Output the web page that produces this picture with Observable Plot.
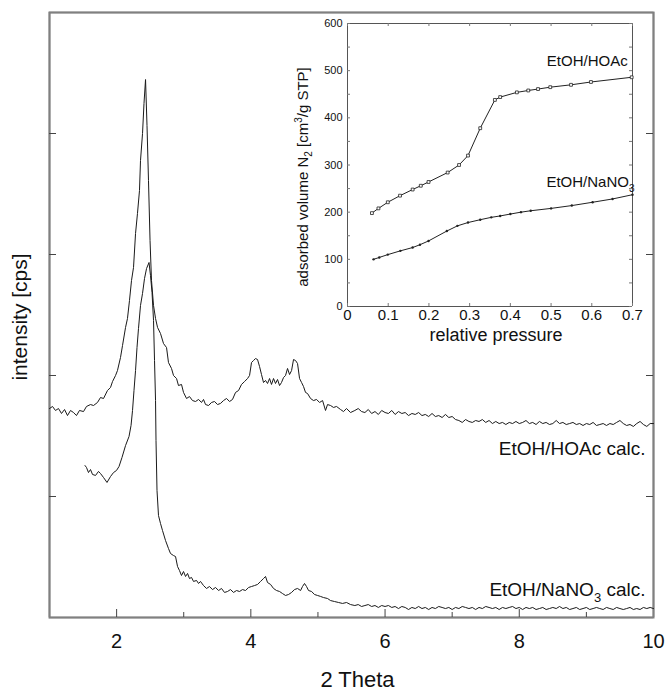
<!DOCTYPE html>
<html>
<head>
<meta charset="utf-8">
<script src="https://cdn.jsdelivr.net/npm/d3@7"></script>
<script src="https://cdn.jsdelivr.net/npm/@observablehq/plot@0.6"></script>
<style>
  html, body { margin: 0; padding: 0; background: #fff; }
  #wrap { position: relative; width: 666px; height: 693px; font-family: "Liberation Sans", Arial, Helvetica, sans-serif; }
  #wrap svg { position: absolute; max-width: none; }
</style>
</head>
<body>
<div id="wrap"></div>
<script>
// ---------- Main XRD chart data ----------
const thetaDomain = [1, 10];
const intensityDomain = [0, 5];
const thetaMajorTicks = [2, 4, 6, 8];
const thetaMinorTicks = [3, 5, 7, 9];
const thetaLabelTicks = [2, 4, 6, 8, 10];
const intensityTicks = [1, 2, 3, 4];
const xTitle = "2 Theta";
const yTitle = "intensity [cps]";
const curveLabels = ["EtOH/HOAc calc.", "EtOH/NaNO3 calc."];

// [2 theta, intensity (arbitrary units)]
const hoacXRD = [
[1.000,1.727],[1.045,1.744],[1.089,1.711],[1.134,1.727],[1.179,1.686],[1.224,1.719],[1.268,1.669],[1.313,1.711],[1.358,1.694],[1.402,1.669],
[1.447,1.711],[1.507,1.702],[1.551,1.744],[1.611,1.760],[1.656,1.752],[1.715,1.777],[1.760,1.818],[1.805,1.810],[1.864,1.876],[1.909,1.901],
[1.939,1.950],[1.984,2.000],[2.013,2.041],[2.058,2.149],[2.088,2.248],[2.133,2.397],[2.162,2.471],[2.192,2.620],[2.222,2.785],[2.252,2.893],
[2.282,3.174],[2.311,3.339],[2.341,3.529],[2.356,3.777],[2.386,4.000],[2.408,4.248],[2.431,4.446],[2.453,4.066],[2.475,3.612],[2.498,3.116],
[2.520,2.785],[2.550,2.579],[2.580,2.471],[2.610,2.397],[2.654,2.347],[2.699,2.264],[2.744,2.231],[2.773,2.107],[2.818,2.058],[2.848,2.000],
[2.893,1.975],[2.922,1.917],[2.967,1.926],[2.997,1.860],[3.042,1.810],[3.086,1.826],[3.131,1.793],[3.176,1.785],[3.221,1.802],[3.265,1.777],
[3.295,1.802],[3.325,1.760],[3.370,1.752],[3.414,1.777],[3.459,1.785],[3.504,1.760],[3.548,1.769],[3.593,1.793],[3.638,1.810],[3.683,1.785],
[3.727,1.802],[3.772,1.860],[3.817,1.876],[3.861,1.926],[3.906,1.950],[3.951,1.975],[3.981,2.000],[4.010,2.107],[4.040,2.124],[4.070,2.140],
[4.100,2.132],[4.130,2.074],[4.159,2.008],[4.189,1.942],[4.219,1.959],[4.249,1.934],[4.279,1.975],[4.308,1.926],[4.338,1.975],[4.368,1.934],
[4.398,1.967],[4.428,1.917],[4.457,1.942],[4.487,1.983],[4.517,2.000],[4.547,2.058],[4.577,2.008],[4.607,2.041],[4.636,2.132],[4.666,2.124],
[4.696,2.099],[4.726,1.975],[4.756,1.942],[4.785,1.909],[4.815,1.860],[4.845,1.851],[4.890,1.810],[4.934,1.793],[4.979,1.802],[5.024,1.777],
[5.069,1.793],[5.113,1.711],[5.143,1.760],[5.188,1.752],[5.232,1.736],[5.277,1.744],[5.337,1.719],[5.381,1.702],[5.426,1.727],[5.486,1.694],
[5.55,1.711],[5.60,1.727],[5.65,1.702],[5.70,1.694],[5.75,1.719],[5.80,1.686],[5.85,1.702],[5.90,1.678],[5.95,1.711],[6.00,1.694],
[6.05,1.686],[6.10,1.711],[6.15,1.678],[6.20,1.702],[6.25,1.686],[6.30,1.694],[6.35,1.669],[6.40,1.686],[6.45,1.678],[6.50,1.694],
[6.55,1.669],[6.60,1.678],[6.65,1.661],[6.70,1.686],[6.75,1.661],[6.80,1.669],[6.85,1.653],[6.90,1.678],[6.95,1.653],[7.00,1.661],
[7.05,1.636],[7.10,1.628],[7.15,1.612],[7.20,1.636],[7.25,1.620],[7.30,1.612],[7.35,1.628],[7.40,1.620],[7.45,1.636],[7.50,1.612],
[7.55,1.628],[7.60,1.603],[7.65,1.620],[7.70,1.603],[7.75,1.612],[7.80,1.595],[7.85,1.612],[7.90,1.603],[7.95,1.620],[8.00,1.603],
[8.05,1.612],[8.10,1.628],[8.15,1.603],[8.20,1.612],[8.25,1.595],[8.30,1.620],[8.35,1.603],[8.40,1.612],[8.45,1.595],[8.50,1.603],
[8.55,1.628],[8.60,1.603],[8.65,1.612],[8.70,1.595],[8.75,1.603],[8.80,1.612],[8.85,1.595],[8.90,1.603],[8.95,1.587],[9.00,1.603],
[9.05,1.595],[9.10,1.612],[9.15,1.587],[9.20,1.595],[9.25,1.603],[9.30,1.587],[9.35,1.603],[9.40,1.595],[9.45,1.612],[9.50,1.628],
[9.55,1.603],[9.60,1.587],[9.65,1.595],[9.70,1.579],[9.75,1.603],[9.80,1.620],[9.85,1.595],[9.90,1.579],[9.95,1.603],[10.00,1.603]
];

const nano3XRD = [
[1.529,1.256],[1.551,1.240],[1.581,1.198],[1.611,1.223],[1.641,1.182],[1.686,1.174],[1.730,1.207],[1.760,1.190],[1.805,1.157],[1.857,1.116],
[1.909,1.165],[1.954,1.198],[1.998,1.215],[2.036,1.248],[2.080,1.322],[2.133,1.421],[2.185,1.496],[2.215,1.587],[2.237,1.711],[2.259,1.876],
[2.282,2.041],[2.304,2.231],[2.326,2.388],[2.356,2.579],[2.386,2.678],[2.416,2.802],[2.446,2.884],[2.483,2.934],[2.505,2.826],[2.528,2.686],
[2.550,2.455],[2.565,2.124],[2.580,1.793],[2.587,1.463],[2.602,1.050],[2.624,0.843],[2.654,0.777],[2.684,0.719],[2.729,0.636],[2.773,0.570],
[2.803,0.529],[2.848,0.512],[2.878,0.504],[2.908,0.421],[2.937,0.388],[2.967,0.347],[2.997,0.380],[3.027,0.339],[3.057,0.364],[3.086,0.322],
[3.116,0.331],[3.146,0.298],[3.191,0.306],[3.221,0.281],[3.250,0.298],[3.295,0.264],[3.340,0.240],[3.384,0.256],[3.429,0.231],[3.474,0.248],
[3.519,0.223],[3.563,0.240],[3.608,0.207],[3.653,0.215],[3.697,0.231],[3.742,0.207],[3.787,0.223],[3.832,0.215],[3.876,0.231],[3.921,0.223],
[3.966,0.248],[4.010,0.256],[4.055,0.264],[4.100,0.273],[4.145,0.298],[4.189,0.322],[4.219,0.339],[4.249,0.289],[4.294,0.273],[4.338,0.240],
[4.383,0.223],[4.428,0.215],[4.472,0.198],[4.517,0.182],[4.562,0.190],[4.607,0.207],[4.651,0.231],[4.696,0.240],[4.741,0.223],[4.770,0.256],
[4.800,0.281],[4.830,0.256],[4.860,0.223],[4.905,0.215],[4.949,0.190],[4.994,0.182],[5.039,0.174],[5.083,0.165],[5.143,0.157],[5.188,0.140],
[5.247,0.132],[5.307,0.124],[5.366,0.116],[5.426,0.124],[5.486,0.107],
[5.55,0.099],[5.60,0.107],[5.65,0.091],[5.70,0.099],[5.75,0.107],[5.80,0.091],[5.85,0.099],[5.90,0.083],[5.95,0.099],[6.00,0.091],
[6.05,0.099],[6.10,0.083],[6.15,0.091],[6.20,0.074],[6.25,0.091],[6.30,0.083],[6.35,0.066],[6.40,0.083],[6.45,0.074],[6.50,0.091],
[6.55,0.074],[6.60,0.083],[6.65,0.066],[6.70,0.083],[6.75,0.074],[6.80,0.091],[6.85,0.083],[6.90,0.074],[6.95,0.083],[7.00,0.066],
[7.05,0.083],[7.10,0.074],[7.15,0.091],[7.20,0.083],[7.25,0.074],[7.30,0.083],[7.35,0.066],[7.40,0.083],[7.45,0.074],[7.50,0.091],
[7.55,0.083],[7.60,0.074],[7.65,0.083],[7.70,0.066],[7.75,0.083],[7.80,0.074],[7.85,0.083],[7.90,0.091],[7.95,0.074],[8.00,0.083],
[8.05,0.066],[8.10,0.083],[8.15,0.074],[8.20,0.083],[8.25,0.066],[8.30,0.074],[8.35,0.083],[8.40,0.066],[8.45,0.074],[8.50,0.083],
[8.55,0.074],[8.60,0.091],[8.65,0.074],[8.70,0.083],[8.75,0.066],[8.80,0.074],[8.85,0.083],[8.90,0.066],[8.95,0.074],[9.00,0.083],
[9.05,0.066],[9.10,0.074],[9.15,0.083],[9.20,0.074],[9.25,0.066],[9.30,0.083],[9.35,0.074],[9.40,0.066],[9.45,0.083],[9.50,0.074],
[9.55,0.066],[9.60,0.074],[9.65,0.083],[9.70,0.066],[9.75,0.074],[9.80,0.066],[9.85,0.083],[9.90,0.074],[9.95,0.083],[10.00,0.074]
];

// ---------- Inset (N2 sorption) data ----------
const pressureDomain = [0, 0.7];
const volumeDomain = [0, 600];
const pressureTicks = [0, 0.1, 0.2, 0.3, 0.4, 0.5, 0.6, 0.7];
const volumeTicks = [0, 100, 200, 300, 400, 500, 600];
const volumeMinorTicks = [50, 150, 250, 350, 450, 550];
const insetXTitle = "relative pressure";
const insetYTitle = "adsorbed volume N2 [cm3/g STP]";
const insetLabels = ["EtOH/HOAc", "EtOH/NaNO3"];
// [relative pressure, adsorbed volume]
const hoacN2 = [
[0.060,198],[0.076,208],[0.099,221],[0.129,235],[0.160,248],[0.180,256],[0.199,264],[0.246,284],[0.274,300],[0.296,320],
[0.326,378],[0.362,438],[0.375,444],[0.416,454],[0.444,458],[0.468,461],[0.498,465],[0.549,470],[0.598,476],[0.698,486]
];
const nano3N2 = [
[0.064,100],[0.078,104],[0.099,110],[0.130,118],[0.160,125],[0.178,131],[0.199,139],[0.244,160],[0.270,171],[0.296,178],
[0.326,184],[0.353,189],[0.375,192],[0.400,196],[0.426,200],[0.450,203],[0.500,208],[0.551,214],[0.602,221],[0.651,228],[0.700,237]
];

const FONT = "'Liberation Sans', Arial, Helvetica, sans-serif";
const px = d => d[0], py = d => d[1];
const last = a => [a[a.length - 1]];
const FRAME = "#808080";

const main = Plot.plot({
  width: 666, height: 693,
  marginLeft: 49, marginRight: 13, marginTop: 12, marginBottom: 76,
  style: {fontFamily: FONT, background: "transparent", color: "#111"},
  x: {domain: thetaDomain},
  y: {domain: intensityDomain, axis: null},
  marks: [
    // frame (box) drawn from the scale domains
    Plot.frame({stroke: FRAME, strokeWidth: 2}),
    Plot.ruleX(thetaDomain, {x: d => d, stroke: FRAME, strokeWidth: 1.6}),
    Plot.ruleY(intensityDomain, {y: d => d, stroke: FRAME, strokeWidth: 1.6}),
    Plot.ruleX(thetaMajorTicks, {x: d => d, y1: intensityDomain[0], y2: intensityDomain[0], insetTop: -8, stroke: "#444"}),
    Plot.ruleX(thetaMinorTicks, {x: d => d, y1: intensityDomain[0], y2: intensityDomain[0], insetTop: -5, stroke: "#444"}),
    Plot.ruleY(intensityTicks, {y: d => d, x1: thetaDomain[0], x2: thetaDomain[0], insetRight: -7, stroke: "#444"}),
    Plot.ruleY(intensityTicks, {y: d => d, x1: thetaDomain[1], x2: thetaDomain[1], insetLeft: -7, stroke: "#444"}),
    Plot.axisX({ticks: thetaLabelTicks, tickFormat: d => String(d), tickSize: 0, tickPadding: 16, fontSize: 20, label: null, fill: "#111"}),
    Plot.line(hoacXRD, {x: px, y: py, stroke: "#1a1a1a", strokeWidth: 1}),
    Plot.line(nano3XRD, {x: px, y: py, stroke: "#1a1a1a", strokeWidth: 1}),
    Plot.text(last(hoacXRD), {x: px, y: py, text: () => curveLabels[0], textAnchor: "end", dx: -8, dy: 25, fontSize: 19, fill: "#111"}),
    Plot.text(last(nano3XRD), {x: px, y: py, text: () => curveLabels[1], textAnchor: "end", dx: -8, dy: -19, fontSize: 19, fill: "#111"}),
    Plot.text([xTitle], {text: d => d, frameAnchor: "bottom", textAnchor: "middle", lineAnchor: "middle", dy: 62, dx: 6, fontSize: 22, fill: "#111"}),
    Plot.text([yTitle], {text: d => d, frameAnchor: "left", textAnchor: "middle", lineAnchor: "middle", rotate: -90, dx: -29, dy: 2, fontSize: 21, fill: "#111"})
  ]
});

const inset = Plot.plot({
  width: 376, height: 360,
  marginLeft: 57, marginRight: 34, marginTop: 23, marginBottom: 54,
  style: {fontFamily: FONT, background: "transparent", color: "#111"},
  x: {domain: pressureDomain},
  y: {domain: volumeDomain},
  marks: [
    Plot.ruleX(pressureDomain, {x: d => d, stroke: "#555"}),
    Plot.ruleY(volumeDomain, {y: d => d, stroke: "#555"}),
    Plot.ruleY(volumeTicks.concat(volumeMinorTicks), {y: d => d, x1: pressureDomain[0], x2: pressureDomain[0], insetRight: -3, stroke: "#777"}),
    Plot.ruleY(volumeTicks.concat(volumeMinorTicks), {y: d => d, x1: pressureDomain[1], x2: pressureDomain[1], insetLeft: -3, stroke: "#777"}),
    Plot.ruleX(pressureTicks, {x: d => d, y1: volumeDomain[0], y2: volumeDomain[0], insetTop: -3, stroke: "#777"}),
    Plot.ruleX(pressureTicks, {x: d => d, y1: volumeDomain[1], y2: volumeDomain[1], insetBottom: -3, stroke: "#777"}),
    Plot.axisX({ticks: pressureTicks, tickFormat: d => String(d), tickSize: 0, tickPadding: 3, fontSize: 15, label: null, fill: "#111"}),
    Plot.axisY({ticks: volumeTicks, tickFormat: d => String(d), tickSize: 0, tickPadding: 5, fontSize: 11, label: null, fill: "#111"}),
    Plot.line(hoacN2, {x: px, y: py, stroke: "#222", strokeWidth: 1}),
    Plot.dot(hoacN2, {x: px, y: py, symbol: "square", r: 1.6, stroke: "#222", fill: "white", strokeWidth: 0.8}),
    Plot.line(nano3N2, {x: px, y: py, stroke: "#222", strokeWidth: 1}),
    Plot.dot(nano3N2, {x: px, y: py, r: 1.2, fill: "#222", stroke: "none"}),
    Plot.text(last(hoacN2), {x: px, y: py, text: () => insetLabels[0], textAnchor: "end", dx: -4, dy: -16, fontSize: 15, fill: "#111"}),
    Plot.text(last(nano3N2), {x: px, y: py, text: () => insetLabels[1], textAnchor: "end", dx: 2, dy: -13, fontSize: 15, fill: "#111"}),
    Plot.text([insetXTitle], {text: d => d, frameAnchor: "bottom", textAnchor: "middle", lineAnchor: "middle", dy: 29, dx: 6, fontSize: 18, fill: "#111"}),
    Plot.text([insetYTitle], {text: d => d, frameAnchor: "left", textAnchor: "middle", lineAnchor: "middle", rotate: -90, dx: -44, dy: 12, fontSize: 15, fill: "#111"})
  ]
});

// sub/superscripts as real text tspans
const rich = {
  "EtOH/NaNO3 calc.": [["EtOH/NaNO", 0], ["3", 6, 13], [" calc.", 0]],
  "EtOH/NaNO3": [["EtOH/NaNO", 0], ["3", 5, 10]],
  "adsorbed volume N2 [cm3/g STP]": [["adsorbed volume N", 0], ["2", 4, 10], [" [cm", 0], ["3", -6, 10], ["/g STP]", 0]]
};
function applyRich(svg) {
  svg.querySelectorAll("text").forEach(t => {
    const spec = rich[t.textContent];
    if (!spec) return;
    while (t.firstChild) t.removeChild(t.firstChild);
    let cur = 0;
    for (const [s, shift, size] of spec) {
      const ts = document.createElementNS("http://www.w3.org/2000/svg", "tspan");
      ts.textContent = s;
      if (shift !== cur) ts.setAttribute("dy", String(shift - cur));
      cur = shift;
      if (size) ts.setAttribute("font-size", size);
      t.appendChild(ts);
    }
  });
}
applyRich(main);
applyRich(inset);

const wrap = document.getElementById("wrap");
main.style.left = "0px"; main.style.top = "0px";
inset.style.left = "290px"; inset.style.top = "0px";
wrap.appendChild(main);
wrap.appendChild(inset);
</script>
</body>
</html>
